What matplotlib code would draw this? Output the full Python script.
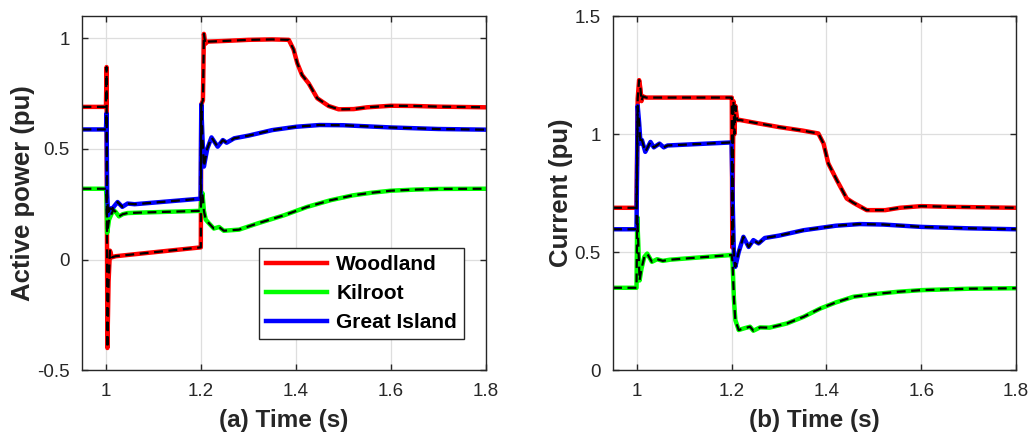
import matplotlib
matplotlib.use('Agg')
import matplotlib.pyplot as plt

plt.rcParams['font.family'] = ['Liberation Sans', 'DejaVu Sans']

# (a) active power, pu
p_wood_t = [0.95, 0.9995, 1.0008, 1.0015, 1.0025, 1.005, 1.008, 1.012, 1.02, 1.1995, 1.2005, 1.204,
            1.206, 1.209, 1.214, 1.25, 1.3, 1.35, 1.385, 1.395, 1.403, 1.413, 1.427, 1.445, 1.469,
            1.49, 1.522, 1.55, 1.6, 1.65, 1.7, 1.8]
p_wood = [0.69, 0.69, 0.87, 0.2, -0.40, -0.1, 0.04, 0.01, 0.015, 0.055, 0.70, 0.72,
          1.02, 0.975, 0.985, 0.988, 0.993, 0.995, 0.993, 0.95, 0.887, 0.834, 0.796, 0.729, 0.694,
          0.679, 0.68, 0.688, 0.695, 0.694, 0.691, 0.688]
p_kil_t = [0.95, 0.9995, 1.0008, 1.002, 1.004, 1.006, 1.01, 1.015, 1.02, 1.027, 1.035, 1.045, 1.07,
           1.199, 1.2005, 1.203, 1.206, 1.21, 1.217, 1.227, 1.238, 1.248, 1.26, 1.28, 1.319, 1.375,
           1.424, 1.473, 1.52, 1.56, 1.6, 1.65, 1.7, 1.8]
p_kil = [0.32, 0.32, 0.28, 0.12, 0.15, 0.18, 0.20, 0.225, 0.215, 0.195, 0.205, 0.21, 0.212,
         0.22, 0.27, 0.30, 0.22, 0.18, 0.163, 0.14, 0.147, 0.13, 0.132, 0.135, 0.163, 0.20,
         0.238, 0.268, 0.29, 0.302, 0.311, 0.316, 0.319, 0.32]
p_gi_t = [0.95, 0.9995, 1.0008, 1.002, 1.004, 1.007, 1.012, 1.024, 1.034, 1.045, 1.06, 1.199,
          1.2005, 1.203, 1.206, 1.213, 1.222, 1.235, 1.246, 1.254, 1.27, 1.3, 1.35, 1.4, 1.45,
          1.5, 1.6, 1.7, 1.8]
p_gi = [0.588, 0.588, 0.66, 0.3, 0.2, 0.232, 0.228, 0.26, 0.238, 0.253, 0.25, 0.275,
        0.70, 0.55, 0.42, 0.50, 0.552, 0.51, 0.54, 0.528, 0.548, 0.56, 0.585, 0.60, 0.608,
        0.607, 0.597, 0.59, 0.587]

# (b) current, pu
i_wood_t = [0.95, 0.9995, 1.002, 1.005, 1.008, 1.01, 1.013, 1.02, 1.1995, 1.2005, 1.2015, 1.204,
            1.206, 1.208, 1.212, 1.218, 1.25, 1.3, 1.35, 1.383, 1.394, 1.404, 1.422, 1.443, 1.457,
            1.485, 1.524, 1.555, 1.6, 1.66, 1.8]
i_wood = [0.688, 0.688, 1.15, 1.229, 1.19, 1.14, 1.16, 1.155, 1.155, 1.155, 0.52, 1.14,
          1.0, 1.12, 1.06, 1.06, 1.048, 1.03, 1.015, 1.003, 0.96, 0.876, 0.805, 0.727, 0.709,
          0.678, 0.678, 0.688, 0.695, 0.692, 0.688]
i_kil_t = [0.95, 0.9995, 1.001, 1.003, 1.006, 1.01, 1.016, 1.022, 1.032, 1.043, 1.055, 1.07,
           1.2, 1.202, 1.205, 1.208, 1.215, 1.228, 1.239, 1.246, 1.26, 1.28, 1.317, 1.352,
           1.387, 1.42, 1.457, 1.5, 1.55, 1.6, 1.7, 1.8]
i_kil = [0.349, 0.349, 0.65, 0.55, 0.38, 0.43, 0.48, 0.494, 0.459, 0.47, 0.463, 0.468,
         0.488, 0.46, 0.30, 0.212, 0.17, 0.178, 0.184, 0.167, 0.181, 0.18, 0.198, 0.226,
         0.261, 0.287, 0.311, 0.322, 0.332, 0.339, 0.345, 0.347]
i_gi_t = [0.95, 0.9995, 1.002, 1.005, 1.008, 1.011, 1.018, 1.029, 1.036, 1.048, 1.057, 1.065,
          1.2, 1.202, 1.205, 1.208, 1.215, 1.225, 1.236, 1.246, 1.257, 1.27, 1.3, 1.352, 1.42,
          1.47, 1.52, 1.6, 1.7, 1.8]
i_gi = [0.597, 0.597, 1.12, 1.05, 0.96, 0.975, 0.925, 0.967, 0.944, 0.96, 0.944, 0.952,
        0.965, 0.75, 0.48, 0.438, 0.5, 0.565, 0.522, 0.551, 0.537, 0.56, 0.57, 0.593, 0.612,
        0.619, 0.617, 0.607, 0.601, 0.597]

names = ['Woodland', 'Kilroot', 'Great Island']
colors = ['#ff0000', '#00ff00', '#0000ff']

fig = plt.figure(figsize=(10.31, 4.37), dpi=100)
ax1 = fig.add_axes([0.080, 0.153, 0.391, 0.810])
ax2 = fig.add_axes([0.5946, 0.153, 0.3909, 0.810])

def style(ax):
    ax.grid(True, color='#dedede', linewidth=0.9)
    ax.set_axisbelow(True)
    ax.tick_params(direction='in', length=4, width=1, top=True, right=True,
                   labelsize=13.5, colors='#262626', pad=9)
    for s in ax.spines.values():
        s.set_color('#262626')
        s.set_linewidth(1.0)
    ax.set_xlim(0.95, 1.8)
    ax.set_xticks([1, 1.2, 1.4, 1.6, 1.8])
    ax.set_xticklabels(['1', '1.2', '1.4', '1.6', '1.8'])

left = [(p_wood_t, p_wood), (p_kil_t, p_kil), (p_gi_t, p_gi)]
right = [(i_wood_t, i_wood), (i_kil_t, i_kil), (i_gi_t, i_gi)]

for ax, sets in [(ax1, left), (ax2, right)]:
    style(ax)
    for (t, v), c, n in zip(sets, colors, names):
        ax.plot(t, v, color=c, lw=3.2, label=n, solid_joinstyle='round')
    for t, v in sets:
        ax.plot(t, v, color='black', lw=1.6, dashes=(4, 2.5))

ax1.set_ylim(-0.5, 1.1)
ax1.set_yticks([-0.5, 0, 0.5, 1])
ax1.set_yticklabels(['-0.5', '0', '0.5', '1'])
ax2.set_ylim(0, 1.5)
ax2.set_yticks([0, 0.5, 1, 1.5])
ax2.set_yticklabels(['0', '0.5', '1', '1.5'])

lab = dict(fontsize=17.5, fontweight='bold', color='#262626')
ax1.set_ylabel('Active power (pu)', labelpad=2, fontsize=18.5, fontweight='bold', color='#262626')
ax2.set_ylabel('Current (pu)', labelpad=1, fontsize=18.5, fontweight='bold', color='#262626')
ax1.set_xlabel('(a) Time (s)', labelpad=7, **lab)
ax2.set_xlabel('(b) Time (s)', labelpad=7, **lab)

leg = ax1.legend(loc='lower right', bbox_to_anchor=(0.947, 0.0876), borderaxespad=0,
                 prop={'size': 15, 'weight': 'bold'}, handlelength=2.9, labelspacing=0.48,
                 fancybox=False, framealpha=1, edgecolor='#262626', borderpad=0.35,
                 handletextpad=0.45)
leg.get_frame().set_linewidth(1.0)

fig.savefig('out.png', dpi=100)
